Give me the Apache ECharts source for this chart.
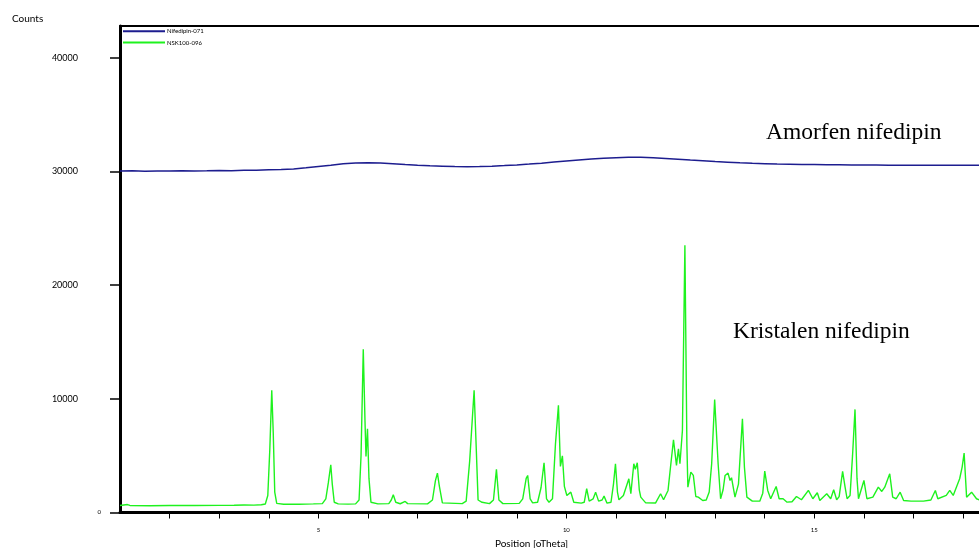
<!DOCTYPE html>
<html>
<head>
<meta charset="utf-8">
<title>Nifedipin XRD</title>
<script src="https://cdn.jsdelivr.net/npm/echarts@6/dist/echarts.min.js"></script>
<style>
  html, body { margin: 0; padding: 0; background: #ffffff; }
  #chart { width: 979px; height: 548px; }
</style>
</head>
<body>
<div id="chart"></div>
<script>
// Series names
var seriesNames = ['Nifedipin-071', 'NSK100-096'];

// Amorphous sample: [2theta, counts]
var amorphous = [
  [1.00, 30040], [1.25, 30060], [1.50, 30030], [1.75, 30050], [2.00, 30040],
  [2.25, 30070], [2.50, 30050], [2.75, 30060], [3.00, 30080], [3.25, 30070],
  [3.50, 30100], [3.75, 30110], [4.00, 30150], [4.25, 30180], [4.50, 30230],
  [4.75, 30330], [5.00, 30450], [5.25, 30560], [5.50, 30680], [5.75, 30740],
  [6.00, 30770], [6.25, 30740], [6.50, 30690], [6.75, 30620], [7.00, 30560],
  [7.25, 30510], [7.50, 30470], [7.75, 30430], [8.00, 30420], [8.25, 30440],
  [8.50, 30470], [8.75, 30520], [9.00, 30580], [9.25, 30650], [9.50, 30730],
  [9.75, 30830], [10.00, 30920], [10.25, 31010], [10.50, 31090], [10.75, 31160],
  [11.00, 31210], [11.25, 31260], [11.50, 31250], [11.75, 31200], [12.00, 31140],
  [12.25, 31080], [12.50, 31010], [12.75, 30950], [13.00, 30880], [13.25, 30820],
  [13.50, 30760], [13.75, 30720], [14.00, 30690], [14.25, 30660], [14.50, 30640],
  [14.75, 30620], [15.00, 30610], [15.25, 30600], [15.50, 30590], [15.75, 30580],
  [16.00, 30580], [16.25, 30570], [16.50, 30560], [16.75, 30560], [17.00, 30560],
  [17.25, 30550], [17.50, 30550], [17.75, 30550], [18.00, 30550], [18.33, 30550]
];

// Crystalline sample: [2theta, counts]
var crystalline = [
  [1.00, 610], [1.15, 700], [1.20, 620], [1.60, 600], [2.00, 610], [2.50, 615],
  [3.00, 630], [3.30, 640], [3.50, 660], [3.70, 650], [3.85, 680], [3.93, 750],
  [3.98, 1500], [4.02, 5500], [4.06, 10750], [4.09, 7000], [4.12, 1800], [4.16, 800],
  [4.30, 720], [4.60, 730], [4.90, 760], [5.08, 780], [5.15, 1200], [5.20, 2600],
  [5.25, 4200], [5.28, 2500], [5.32, 900], [5.40, 760], [5.60, 740], [5.75, 760],
  [5.82, 1100], [5.86, 5000], [5.905, 14360], [5.94, 8000], [5.96, 4930], [5.99, 7370],
  [6.02, 3000], [6.06, 900], [6.20, 760], [6.42, 780], [6.47, 1100], [6.51, 1560],
  [6.56, 900], [6.65, 770], [6.75, 970], [6.80, 780], [7.20, 760], [7.30, 1100],
  [7.36, 2800], [7.40, 3460], [7.44, 2300], [7.50, 850], [7.90, 780], [7.98, 1000],
  [8.05, 4500], [8.14, 10750], [8.18, 6000], [8.22, 1100], [8.30, 900], [8.45, 780],
  [8.53, 1100], [8.59, 3790], [8.64, 1100], [8.72, 780], [9.05, 800], [9.12, 1200],
  [9.19, 3000], [9.22, 3260], [9.27, 1200], [9.32, 850], [9.42, 900], [9.49, 2200],
  [9.55, 4380], [9.60, 1200], [9.65, 900], [9.72, 1200], [9.78, 6000], [9.84, 9430],
  [9.88, 4050], [9.92, 4990], [9.96, 2300], [10.01, 1500], [10.09, 1790], [10.15, 900],
  [10.30, 820], [10.36, 900], [10.41, 2090], [10.46, 1000], [10.54, 1200], [10.59, 1790],
  [10.65, 1000], [10.72, 1100], [10.76, 1440], [10.82, 820], [10.90, 900], [10.95, 2500],
  [10.99, 4290], [11.03, 1800], [11.06, 1120], [11.15, 1500], [11.26, 2970], [11.30, 1650],
  [11.36, 4290], [11.39, 3800], [11.43, 4380], [11.47, 2000], [11.50, 1350], [11.60, 850],
  [11.80, 840], [11.90, 1650], [11.96, 1120], [12.05, 1940], [12.10, 4000], [12.16, 6400],
  [12.22, 4140], [12.26, 5610], [12.29, 4290], [12.34, 7220], [12.39, 23520], [12.43, 6000],
  [12.45, 2230], [12.51, 3550], [12.56, 3260], [12.61, 1410], [12.66, 1350], [12.75, 1060],
  [12.82, 1100], [12.88, 1800], [12.93, 4290], [12.99, 9930], [13.02, 9800], [13.06, 4290],
  [13.11, 1210], [13.16, 2000], [13.20, 3260], [13.26, 3460], [13.30, 2820], [13.33, 3060],
  [13.40, 1350], [13.47, 2500], [13.55, 8250], [13.59, 4000], [13.64, 1350], [13.75, 1000],
  [13.90, 1000], [13.96, 1700], [14.00, 3640], [14.06, 1940], [14.12, 1210], [14.23, 2290],
  [14.29, 1210], [14.37, 1210], [14.45, 910], [14.55, 950], [14.64, 1410], [14.74, 1120],
  [14.88, 1940], [14.97, 1210], [15.06, 1740], [15.11, 1060], [15.25, 1650], [15.33, 1210],
  [15.39, 2000], [15.45, 1120], [15.50, 1400], [15.57, 3610], [15.62, 2230], [15.66, 1210],
  [15.72, 1500], [15.77, 5000], [15.82, 9070], [15.86, 3000], [15.89, 1210], [16.00, 2820],
  [16.06, 1210], [16.18, 1350], [16.29, 2230], [16.36, 1850], [16.42, 2230], [16.52, 3410],
  [16.58, 1350], [16.65, 1210], [16.73, 1790], [16.80, 1060], [16.95, 1000], [17.20, 1000],
  [17.35, 1100], [17.44, 1940], [17.49, 1210], [17.66, 1500], [17.73, 1940], [17.80, 1500],
  [17.93, 2970], [17.98, 4000], [18.02, 5230], [18.07, 1350], [18.17, 1790], [18.27, 1210],
  [18.33, 1100]
];

// Axis ticks and labels
var xTickValues = [2, 3, 4, 5, 6, 7, 8, 9, 10, 11, 12, 13, 14, 15, 16, 17, 18];
var xLabelValues = [5, 10, 15];
var yTickValues = [0, 10000, 20000, 30000, 40000];
var yLabelValues = [10000, 20000, 30000, 40000];
var yZeroLabel = [0];

// Text annotations
var notes = [
  { text: 'Amorfen nifedipin', x: 766, y: 133 },
  { text: 'Kristalen nifedipin', x: 733, y: 332 }
];

var X_MIN = 1, X_MAX = 18.32, Y_MIN = 0, Y_MAX = 42800;

function plain(v) { return String(v); }

var chart = echarts.init(document.getElementById('chart'), null, { renderer: 'canvas' });

var option = {
  animation: false,
  backgroundColor: '#ffffff',
  title: {
    text: 'Counts',
    left: 12,
    top: 14,
    padding: 0,
    textStyle: { fontFamily: 'Lato', fontSize: 10, fontWeight: 'normal', color: '#000' }
  },
  legend: {
    orient: 'vertical',
    left: 122,
    top: 28,
    padding: 0,
    itemWidth: 42,
    itemHeight: 8,
    itemGap: 5,
    itemStyle: { opacity: 0 },
    textStyle: { fontFamily: 'Lato', fontSize: 6, color: '#000', padding: [0, 0, 0, -3] },
    data: seriesNames
  },
  grid: { left: 120, right: 0, top: 26, bottom: 35.5, containLabel: false, outerBoundsMode: 'none' },
  xAxis: [{
    type: 'value',
    min: X_MIN,
    max: X_MAX,
    position: 'bottom',
    name: 'Position [oTheta]',
    nameLocation: 'middle',
    nameGap: 26,
    nameTextStyle: { fontFamily: 'Lato', fontSize: 10, color: '#000', padding: [0, 36, 0, 0] },
    axisLine: { show: true, onZero: false, lineStyle: { color: '#000', width: 3 } },
    axisTick: { show: true, length: 6, customValues: xTickValues, lineStyle: { color: '#000', width: 1 } },
    axisLabel: { show: true, customValues: xLabelValues, margin: 15, fontFamily: 'Lato', fontSize: 6, color: '#000', formatter: plain },
    splitLine: { show: false }
  }, {
    type: 'value',
    min: X_MIN,
    max: X_MAX,
    position: 'top',
    axisLine: { show: true, onZero: false, lineStyle: { color: '#000', width: 2 } },
    axisTick: { show: false },
    axisLabel: { show: false },
    splitLine: { show: false }
  }],
  yAxis: [{
    type: 'value',
    min: Y_MIN,
    max: Y_MAX,
    position: 'left',
    axisLine: { show: true, onZero: false, lineStyle: { color: '#000', width: 3 } },
    axisTick: { show: true, length: 10, customValues: yTickValues, lineStyle: { color: '#000', width: 1.5 } },
    axisLabel: { show: true, customValues: yLabelValues, margin: 42, fontFamily: 'Lato', fontSize: 9, color: '#000', formatter: plain },
    splitLine: { show: false }
  }, {
    type: 'value',
    min: Y_MIN,
    max: Y_MAX,
    position: 'left',
    axisLine: { show: false },
    axisTick: { show: false },
    axisLabel: { show: true, customValues: yZeroLabel, margin: 19, fontFamily: 'Lato', fontSize: 6, color: '#000', formatter: plain },
    splitLine: { show: false }
  }],
  graphic: notes.map(function (n) {
    return {
      type: 'text',
      x: n.x,
      y: n.y,
      style: {
        text: n.text,
        font: '23.5px "Liberation Serif", "Times New Roman", serif',
        fill: '#000',
        verticalAlign: 'middle'
      }
    };
  }),
  series: [{
    name: seriesNames[0],
    type: 'line',
    data: amorphous,
    symbol: 'none',
    color: '#1d1d8f',
    lineStyle: { color: '#1d1d8f', width: 1.5 },
    clip: true
  }, {
    name: seriesNames[1],
    type: 'line',
    data: crystalline,
    symbol: 'none',
    color: '#1ef21e',
    lineStyle: { color: '#1ef21e', width: 1.4 },
    clip: true
  }]
};

chart.setOption(option);
</script>
</body>
</html>
